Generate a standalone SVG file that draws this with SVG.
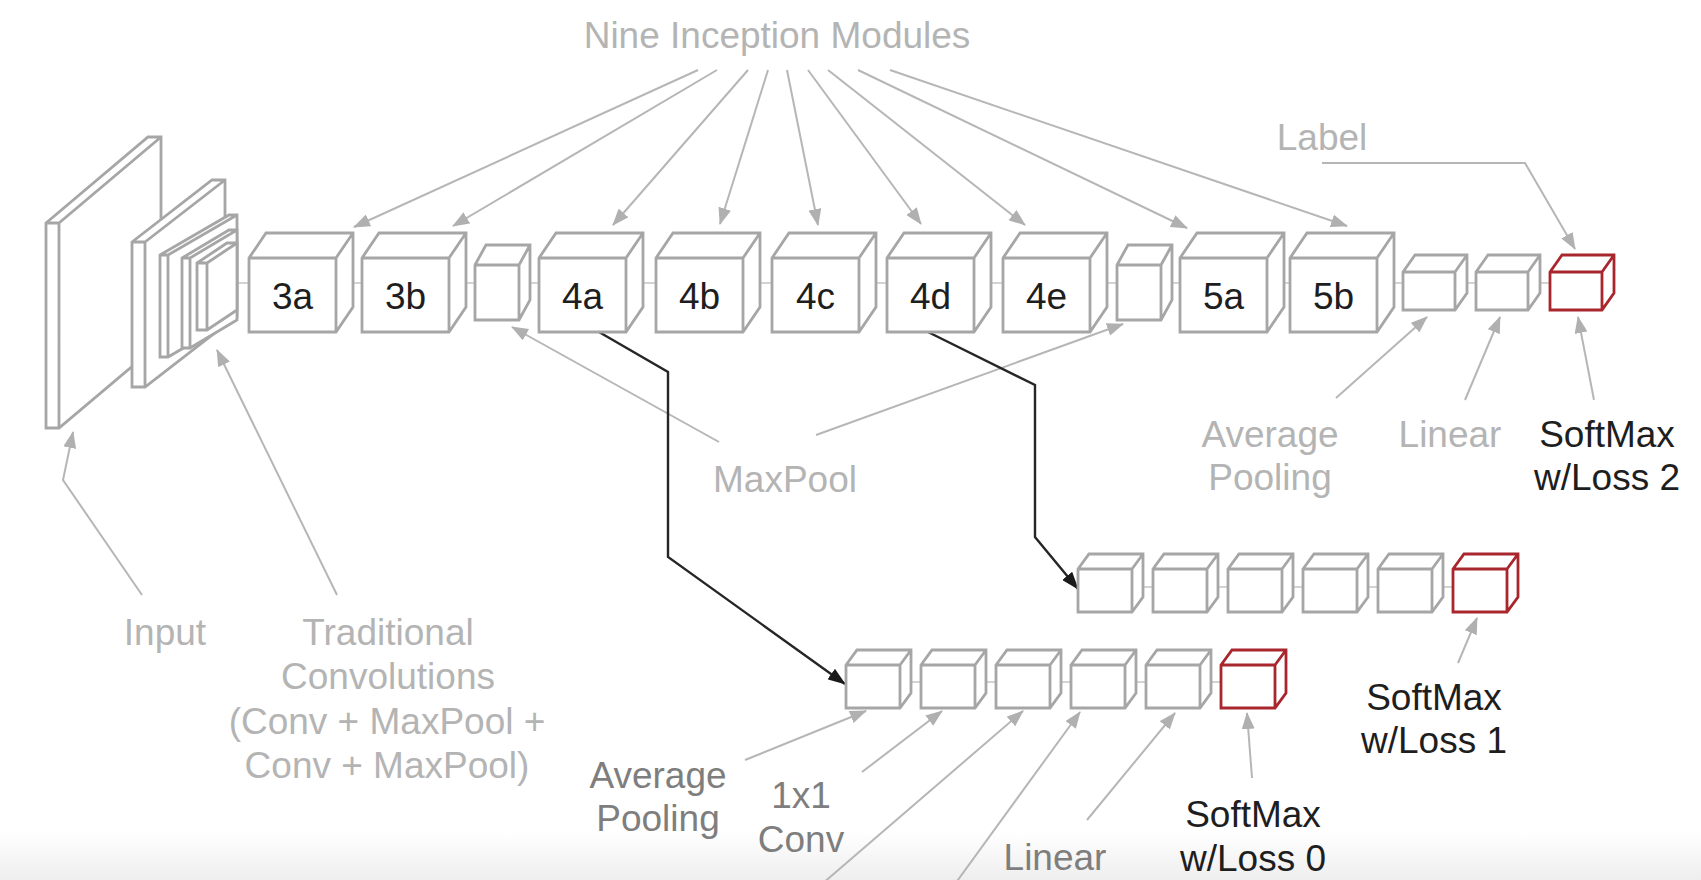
<svg xmlns="http://www.w3.org/2000/svg" xmlns:xlink="http://www.w3.org/1999/xlink" width="1701" height="880" viewBox="0 0 1701 880">
  <defs>
    <style>
      .box { fill: #ffffff; stroke: #a6a6a6; stroke-width: 2.8; stroke-linejoin: miter; }
      .box.red { stroke: #a8262c; }
      .chain { fill: none; stroke: #c4c4c4; stroke-width: 1.6; }
      .arr { fill: none; stroke: #b6b6b6; stroke-width: 2; marker-end: url(#headGray); }
      .flow { fill: none; stroke: #262626; stroke-width: 2.4; marker-end: url(#headBlack); }
      text { font-family: "Liberation Sans", Arial, Helvetica, sans-serif; font-size: 37px; text-anchor: middle; }
      .light { fill: #b4b4b4; }
      .mid { fill: #7e7e7e; }
      .dark { fill: #1e1e1e; }
    </style>
    <marker id="headGray" markerUnits="userSpaceOnUse" markerWidth="17" markerHeight="13" refX="16" refY="6.5" orient="auto">
      <path d="M0,0 L17,6.5 L0,13 Z" fill="#b0b0b0"/>
    </marker>
    <marker id="headBlack" markerUnits="userSpaceOnUse" markerWidth="18" markerHeight="13" refX="17" refY="6.5" orient="auto">
      <path d="M0,0 L18,6.5 L0,13 Z" fill="#1a1a1a"/>
    </marker>
    <linearGradient id="floor" x1="0" y1="0" x2="0" y2="1">
      <stop offset="0" stop-color="#ffffff"/>
      <stop offset="1" stop-color="#eeeeee"/>
    </linearGradient>
    <!-- box shapes: front face at the origin, depth drawn up and to the right -->
    <path id="bigBox" d="M0,0 L17,-25 L104,-25 L104,49 L87,74 L0,74 Z M0,0 H87 V74 M87,0 L104,-25"/>
    <path id="poolBox" d="M0,0 L11,-20 L55,-20 L55,35 L44,55 L0,55 Z M0,0 H44 V55 M44,0 L55,-20"/>
    <path id="endBox" d="M0,0 L12,-17 L64,-17 L64,21 L52,38 L0,38 Z M0,0 H52 V38 M52,0 L64,-17"/>
    <path id="auxBox" d="M0,0 L11,-15 L65,-15 L65,28 L54,43 L0,43 Z M0,0 H54 V43 M54,0 L65,-15"/>
  </defs>

  <rect x="0" y="0" width="1701" height="880" fill="#ffffff"/>
  <rect x="0" y="832" width="1701" height="48" fill="url(#floor)"/>

  <!-- thin links running through each chain of boxes -->
  <g id="connectors">
    <line class="chain" x1="225" y1="283" x2="1552" y2="283"/>
    <line class="chain" x1="900" y1="682" x2="1224" y2="682"/>
    <line class="chain" x1="1130" y1="587" x2="1455" y2="587"/>

    <!-- pointers from the title to the nine modules -->
    <line class="arr" x1="698" y1="70" x2="354" y2="227"/>
    <line class="arr" x1="717" y1="70" x2="453" y2="226"/>
    <line class="arr" x1="748" y1="70" x2="613" y2="225"/>
    <line class="arr" x1="768" y1="70" x2="720" y2="224"/>
    <line class="arr" x1="787" y1="70" x2="818" y2="225"/>
    <line class="arr" x1="808" y1="70" x2="921" y2="224"/>
    <line class="arr" x1="828" y1="70" x2="1025" y2="225"/>
    <line class="arr" x1="858" y1="70" x2="1187" y2="228"/>
    <line class="arr" x1="890" y1="70" x2="1347" y2="226"/>

    <polyline class="arr" points="1322,163 1525,163 1575,249"/>
    <polyline class="arr" points="142,595 63,480 73,432"/>
    <line class="arr" x1="337" y1="595" x2="217" y2="350"/>
    <line class="arr" x1="719" y1="442" x2="512" y2="327"/>
    <line class="arr" x1="816" y1="435" x2="1123" y2="324"/>

    <line class="arr" x1="1336" y1="398" x2="1427" y2="317"/>
    <line class="arr" x1="1465" y1="400" x2="1500" y2="317"/>
    <line class="arr" x1="1594" y1="400" x2="1578" y2="317"/>
    <line class="arr" x1="1458" y1="663" x2="1477" y2="618"/>

    <line class="arr" x1="745" y1="760" x2="866" y2="711"/>
    <line class="arr" x1="862" y1="772" x2="942" y2="711"/>
    <line class="arr" x1="822" y1="884" x2="1023" y2="711"/>
    <line class="arr" x1="955" y1="884" x2="1080" y2="712"/>
    <line class="arr" x1="1087" y1="820" x2="1175" y2="713"/>
    <line class="arr" x1="1252" y1="778" x2="1247" y2="713"/>

    <!-- auxiliary classifier branches -->
    <polyline class="flow" points="599,332 668,372 668,557 845,684"/>
    <polyline class="flow" points="928,332 1035,385 1035,537 1078,589"/>
  </g>

  <g id="input">
    <path class="box" d="M46,223 L148,137 L161,137 L161,342 L59,428 L46,428 Z M46,223 H59 V428 M59,223 L161,137"/>
  </g>

  <g id="traditional-convolutions">
    <path class="box" d="M132,242 L212,180 L225,180 L225,325 L145,387 L132,387 Z M132,242 H145 V387 M145,242 L225,180"/>
    <path class="box" d="M160,255 L229,215 L237,215 L237,317 L168,357 L160,357 Z M160,255 H168 V357 M168,255 L237,215"/>
    <path class="box" d="M182,258 L229,230 L237,230 L237,320 L190,348 L182,348 Z M182,258 H190 V348 M190,258 L237,230"/>
    <path class="box" d="M197,263 L227,243 L237,243 L237,310 L207,330 L197,330 Z M197,263 H207 V330 M207,263 L237,243"/>
  </g>

  <g id="inception-3a"><use href="#bigBox" class="box" x="249" y="258"/><text class="dark" x="292.5" y="309">3a</text></g>
  <g id="inception-3b"><use href="#bigBox" class="box" x="362" y="258"/><text class="dark" x="405.5" y="309">3b</text></g>
  <g id="maxpool-1"><use href="#poolBox" class="box" x="475" y="265"/></g>
  <g id="inception-4a"><use href="#bigBox" class="box" x="539" y="258"/><text class="dark" x="582.5" y="309">4a</text></g>
  <g id="inception-4b"><use href="#bigBox" class="box" x="656" y="258"/><text class="dark" x="699.5" y="309">4b</text></g>
  <g id="inception-4c"><use href="#bigBox" class="box" x="772" y="258"/><text class="dark" x="815.5" y="309">4c</text></g>
  <g id="inception-4d"><use href="#bigBox" class="box" x="887" y="258"/><text class="dark" x="930.5" y="309">4d</text></g>
  <g id="inception-4e"><use href="#bigBox" class="box" x="1003" y="258"/><text class="dark" x="1046.5" y="309">4e</text></g>
  <g id="maxpool-2"><use href="#poolBox" class="box" x="1117" y="265"/></g>
  <g id="inception-5a"><use href="#bigBox" class="box" x="1180" y="258"/><text class="dark" x="1223.5" y="309">5a</text></g>
  <g id="inception-5b"><use href="#bigBox" class="box" x="1290" y="258"/><text class="dark" x="1333.5" y="309">5b</text></g>
  <g id="avgpool-main"><use href="#endBox" class="box" x="1403" y="272"/></g>
  <g id="linear-main"><use href="#endBox" class="box" x="1476" y="272"/></g>
  <g id="softmax-2"><use href="#endBox" class="box red" x="1550" y="272"/></g>

  <g id="aux-1">
    <use href="#auxBox" class="box" x="1078" y="569"/>
    <use href="#auxBox" class="box" x="1153" y="569"/>
    <use href="#auxBox" class="box" x="1228" y="569"/>
    <use href="#auxBox" class="box" x="1303" y="569"/>
    <use href="#auxBox" class="box" x="1378" y="569"/>
    <use href="#auxBox" class="box red" x="1453" y="569"/>
  </g>

  <g id="aux-0">
    <use href="#auxBox" class="box" x="846" y="665"/>
    <use href="#auxBox" class="box" x="921" y="665"/>
    <use href="#auxBox" class="box" x="996" y="665"/>
    <use href="#auxBox" class="box" x="1071" y="665"/>
    <use href="#auxBox" class="box" x="1146" y="665"/>
    <use href="#auxBox" class="box red" x="1221" y="665"/>
  </g>

  <g id="labels">
    <text class="light" x="777" y="48">Nine Inception Modules</text>
    <text class="light" x="1322" y="150">Label</text>
    <text class="light" x="165" y="645">Input</text>
    <text class="light" x="388" y="645">Traditional</text>
    <text class="light" x="388" y="689">Convolutions</text>
    <text class="light" x="387" y="734">(Conv + MaxPool +</text>
    <text class="light" x="387" y="778">Conv + MaxPool)</text>
    <text class="light" x="785" y="492">MaxPool</text>
    <text class="light" x="1270" y="447">Average</text>
    <text class="light" x="1270" y="490">Pooling</text>
    <text class="light" x="1450" y="447">Linear</text>
    <text class="dark" x="1607" y="447">SoftMax</text>
    <text class="dark" x="1607" y="490">w/Loss 2</text>
    <text class="dark" x="1434" y="710">SoftMax</text>
    <text class="dark" x="1434" y="753">w/Loss 1</text>
    <text class="mid" x="658" y="788">Average</text>
    <text class="mid" x="658" y="831">Pooling</text>
    <text class="mid" x="801" y="808">1x1</text>
    <text class="mid" x="801" y="852">Conv</text>
    <text class="mid" x="1055" y="870">Linear</text>
    <text class="dark" x="1253" y="827">SoftMax</text>
    <text class="dark" x="1253" y="871">w/Loss 0</text>
  </g>
</svg>
